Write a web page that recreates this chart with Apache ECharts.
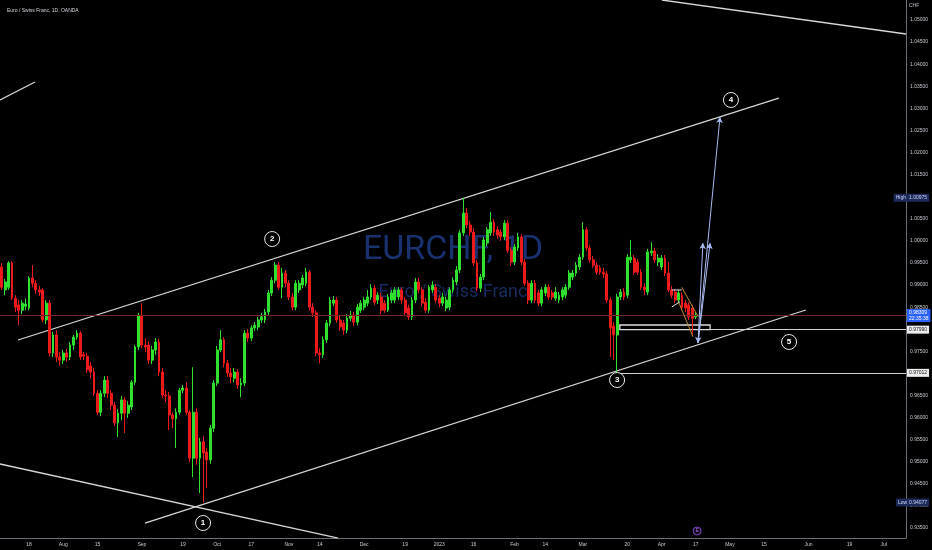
<!DOCTYPE html>
<html><head><meta charset="utf-8">
<script src="https://cdn.jsdelivr.net/npm/echarts@6/dist/echarts.min.js"></script>
<style>html,body{margin:0;padding:0;background:#000}#c{width:932px;height:550px}</style>
</head><body><div id="c"></div>
<script>
// ---- candle values (EUR/CHF daily, OANDA) ----
const opens = [
0.9941,0.9889,0.9895,0.9950,0.9870,0.9855,0.9843,0.9852,0.9848,0.9916,
0.9904,0.9889,0.9889,0.9821,0.9859,0.9746,0.9787,0.9737,0.9730,0.9746,
0.9737,0.9764,0.9782,0.9791,0.9742,0.9739,0.9717,0.9703,0.9655,0.9612,
0.9655,0.9685,0.9655,0.9628,0.9588,0.9610,0.9640,0.9610,0.9624,0.9680,
0.9760,0.9832,0.9764,0.9764,0.9730,0.9753,0.9771,0.9703,0.9651,0.9649,
0.9606,0.9597,0.9612,0.9662,0.9667,0.9612,0.9508,0.9612,0.9508,0.9545,
0.9522,0.9504,0.9576,0.9678,0.9753,0.9776,0.9723,0.9701,0.9689,0.9703,
0.9674,0.9678,0.9791,0.9780,0.9803,0.9805,0.9821,0.9821,0.9839,0.9882,
0.9911,0.9945,0.9895,0.9927,0.9904,0.9873,0.9850,0.9889,0.9900,0.9904,
0.9929,0.9850,0.9837,0.9746,0.9742,0.9776,0.9814,0.9859,0.9866,0.9821,
0.9814,0.9798,0.9825,0.9832,0.9816,0.9843,0.9850,0.9859,0.9873,0.9893,
0.9866,0.9873,0.9859,0.9843,0.9866,0.9866,0.9873,0.9889,0.9866,0.9848,
0.9828,0.9866,0.9907,0.9889,0.9861,0.9843,0.9889,0.9895,0.9870,0.9859,
0.9848,0.9850,0.9889,0.9907,0.9934,1.0018,1.0063,1.0036,1.0020,0.9950,
0.9893,0.9918,0.9995,1.0018,1.0042,1.0025,1.0020,1.0009,1.0040,0.9979,
0.9952,0.9984,1.0009,0.9952,0.9904,0.9866,0.9904,0.9882,0.9859,0.9882,
0.9895,0.9882,0.9870,0.9866,0.9873,0.9877,0.9895,0.9918,0.9927,0.9941,
0.9963,1.0025,0.9984,0.9957,0.9945,0.9939,0.9929,0.9925,0.9866,0.9807,
0.9787,0.9873,0.9884,0.9877,0.9957,0.9961,0.9952,0.9929,0.9895,0.9884,
0.9973,0.9977,0.9952,0.9941,0.9961,0.9927,0.9889,0.9884,0.9866,0.9877,
0.9859,0.9855,0.9848,0.9828];
const closes = [
0.9895,0.9907,0.9950,0.9870,0.9850,0.9843,0.9859,0.9857,0.9916,0.9904,
0.9889,0.9884,0.9821,0.9859,0.9746,0.9787,0.9737,0.9730,0.9746,0.9737,
0.9764,0.9782,0.9791,0.9737,0.9739,0.9708,0.9703,0.9655,0.9612,0.9655,
0.9685,0.9655,0.9628,0.9588,0.9610,0.9640,0.9610,0.9628,0.9680,0.9760,
0.9832,0.9764,0.9760,0.9730,0.9753,0.9771,0.9703,0.9651,0.9649,0.9606,
0.9597,0.9612,0.9662,0.9667,0.9612,0.9508,0.9612,0.9508,0.9545,0.9520,
0.9504,0.9576,0.9678,0.9753,0.9776,0.9723,0.9701,0.9692,0.9703,0.9674,
0.9678,0.9791,0.9780,0.9803,0.9809,0.9821,0.9828,0.9839,0.9882,0.9911,
0.9945,0.9895,0.9927,0.9904,0.9873,0.9850,0.9904,0.9904,0.9916,0.9929,
0.9850,0.9837,0.9746,0.9742,0.9776,0.9814,0.9866,0.9866,0.9821,0.9805,
0.9798,0.9825,0.9832,0.9816,0.9850,0.9859,0.9866,0.9873,0.9893,0.9861,
0.9877,0.9843,0.9843,0.9873,0.9882,0.9889,0.9889,0.9866,0.9837,0.9828,
0.9866,0.9907,0.9889,0.9859,0.9843,0.9895,0.9900,0.9866,0.9859,0.9873,
0.9866,0.9889,0.9911,0.9934,1.0018,1.0063,1.0036,1.0020,0.9950,0.9893,
0.9918,1.0002,1.0025,1.0042,1.0020,1.0013,1.0009,1.0040,0.9979,0.9952,
0.9986,1.0009,0.9952,0.9904,0.9866,0.9904,0.9866,0.9859,0.9889,0.9895,
0.9873,0.9873,0.9884,0.9877,0.9889,0.9895,0.9927,0.9927,0.9945,0.9963,
1.0025,0.9984,0.9957,0.9945,0.9929,0.9929,0.9925,0.9866,0.9803,0.9787,
0.9873,0.9884,0.9873,0.9963,0.9963,0.9929,0.9929,0.9895,0.9889,0.9975,
0.9977,0.9957,0.9961,0.9961,0.9927,0.9889,0.9877,0.9866,0.9882,0.9850,
0.9848,0.9828,0.9825,0.98309];
const lows = [
0.9889,0.9877,0.9889,0.9866,0.9839,0.9809,0.9834,0.9843,0.9843,0.9895,
0.9880,0.9875,0.9816,0.9812,0.9739,0.9737,0.9726,0.9717,0.9721,0.9726,
0.9730,0.9753,0.9776,0.9730,0.9730,0.9701,0.9689,0.9649,0.9606,0.9603,
0.9646,0.9644,0.9617,0.9581,0.9556,0.9594,0.9565,0.9599,0.9617,0.9674,
0.9753,0.9757,0.9748,0.9721,0.9721,0.9742,0.9694,0.9644,0.9635,0.9572,
0.9576,0.9531,0.9606,0.9655,0.9606,0.9499,0.9465,0.9493,0.9429,0.94077,
0.9440,0.9495,0.9567,0.9671,0.9748,0.9714,0.9692,0.9678,0.9680,0.9665,
0.9646,0.9671,0.9771,0.9773,0.9796,0.9798,0.9814,0.9814,0.9832,0.9875,
0.9904,0.9889,0.9870,0.9895,0.9866,0.9843,0.9843,0.9882,0.9893,0.9898,
0.9843,0.9828,0.9739,0.9723,0.9735,0.9769,0.9807,0.9852,0.9814,0.9796,
0.9787,0.9791,0.9818,0.9807,0.9809,0.9837,0.9843,0.9852,0.9866,0.9855,
0.9857,0.9834,0.9837,0.9839,0.9859,0.9859,0.9866,0.9857,0.9830,0.9821,
0.9821,0.9859,0.9882,0.9852,0.9837,0.9837,0.9882,0.9859,0.9850,0.9852,
0.9841,0.9843,0.9882,0.9900,0.9927,1.0011,1.0029,1.0011,0.9943,0.9886,
0.9884,0.9911,0.9988,1.0011,1.0011,1.0004,1.0000,1.0002,0.9973,0.9943,
0.9945,0.9977,0.9945,0.9898,0.9857,0.9859,0.9859,0.9852,0.9852,0.9875,
0.9866,0.9866,0.9864,0.9859,0.9866,0.9870,0.9889,0.9911,0.9920,0.9934,
0.9957,0.9977,0.9950,0.9939,0.9923,0.9923,0.9916,0.9859,0.9737,0.9730,
0.97012,0.9866,0.9866,0.9870,0.9950,0.9923,0.9923,0.9889,0.9877,0.9877,
0.9966,0.9950,0.9943,0.9934,0.9920,0.9884,0.9870,0.9859,0.9859,0.9843,
0.9839,0.9821,0.9787,0.9823];
const highs = [
0.9950,0.9914,0.9954,0.9954,0.9877,0.9866,0.9866,0.9870,0.9920,0.9945,
0.9911,0.9898,0.9893,0.9866,0.9866,0.9794,0.9798,0.9748,0.9753,0.9755,
0.9771,0.9787,0.9798,0.9796,0.9748,0.9746,0.9726,0.9712,0.9662,0.9662,
0.9694,0.9694,0.9662,0.9635,0.9619,0.9649,0.9646,0.9637,0.9685,0.9764,
0.9837,0.9859,0.9780,0.9773,0.9762,0.9780,0.9778,0.9712,0.9662,0.9658,
0.9612,0.9621,0.9667,0.9674,0.9680,0.9617,0.9714,0.9621,0.9554,0.9558,
0.9531,0.9583,0.9685,0.9762,0.9798,0.9782,0.9730,0.9712,0.9712,0.9710,
0.9689,0.9798,0.9800,0.9809,0.9816,0.9828,0.9837,0.9846,0.9889,0.9918,
0.9952,0.9952,0.9939,0.9934,0.9911,0.9882,0.9911,0.9911,0.9923,0.9939,
0.9934,0.9859,0.9843,0.9757,0.9784,0.9821,0.9873,0.9875,0.9873,0.9830,
0.9821,0.9834,0.9841,0.9839,0.9857,0.9866,0.9873,0.9889,0.9902,0.9900,
0.9884,0.9882,0.9866,0.9880,0.9889,0.9895,0.9895,0.9895,0.9873,0.9855,
0.9873,0.9916,0.9916,0.9895,0.9870,0.9900,0.9909,0.9902,0.9877,0.9882,
0.9873,0.9895,0.9918,0.9943,1.0025,1.00975,1.0074,1.0045,1.0029,0.9957,
0.9925,1.0009,1.0031,1.0065,1.0049,1.0033,1.0026,1.0047,1.0047,0.9986,
0.9993,1.0018,1.0015,0.9959,0.9911,0.9911,0.9911,0.9889,0.9895,0.9902,
0.9902,0.9889,0.9895,0.9884,0.9895,0.9902,0.9934,0.9934,0.9952,0.9970,
1.0042,1.0031,0.9991,0.9966,0.9952,0.9945,0.9939,0.9932,0.9873,0.9816,
0.9880,0.9891,0.9893,0.9970,1.0002,0.9968,0.9959,0.9936,0.9904,0.9982,
0.9997,0.9984,0.9970,0.9968,0.9968,0.9952,0.9898,0.9891,0.9889,0.9884,
0.9866,0.9861,0.9855,0.9839];

// ---- axis ticks ----
const priceTicks = [0.935,0.940,0.945,0.950,0.955,0.960,0.965,0.970,0.975,0.980,0.985,0.990,
  0.995,1.000,1.005,1.010,1.015,1.020,1.025,1.030,1.035,1.040,1.045,1.050];
const xTickDates = ['2022-07-18','2022-08-01','2022-08-15','2022-09-01','2022-09-19','2022-10-03',
  '2022-10-17','2022-11-01','2022-11-14','2022-12-01','2022-12-19','2023-01-02','2023-01-16',
  '2023-02-01','2023-02-14','2023-03-01','2023-03-20','2023-04-03','2023-04-17','2023-05-01',
  '2023-05-15','2023-06-01','2023-06-19','2023-07-03'];
const xTickLabels = ['18','Aug','15','Sep','19','Oct','17','Nov','14','Dec','19','2023','16',
  'Feb','14','Mar','20','Apr','17','May','15','Jun','19','Jul'];

// ---- levels and drawings (bar index, price) ----
const lastClock = '22:35:38';
const highValue = 1.00975, lowValue = 0.94077;
const levelA = 0.97990, levelB = 0.97012;
const trendLines = [
  [[4.77, 0.97756], [227.3, 1.03234]],
  [[41.9, 0.93613], [235.2, 0.98435]],
  [[-0.5, 1.03189], [9.74, 1.03597]],
  [[-0.5, 0.94949], [98.4, 0.93273]],
  [[193.1, 1.05453], [264.5, 1.04683]]
];
const flagLines = [
  [[198.9, 0.98949], [203.7, 0.98284]],
  [[198.1, 0.98594], [202.2, 0.97830]]
];
const whiteShort = [
  [[196.0, 0.98888], [198.9, 0.98888]],
  [[196.0, 0.98503], [198.4, 0.98623]]
];
const arrowBase = [203.66, 0.97688];
const arrowTips = [[205.1, 0.99952], [207.2, 0.99952], [210.1, 1.02804]];
const zoneBox = [[180.8, 0.98095], [207.2, 0.97990]];
const waveLabels = [
  ['1', 58.9, 0.93613], ['2', 79.1, 1.00042], ['3', 180.0, 0.96850],
  ['4', 213.3, 1.03189], ['5', 230.3, 0.97711]
];

// weekday categories
const NCAT = 265;
const dates = [];
(function () {
  const d = new Date(Date.UTC(2022, 6, 6));
  while (dates.length < NCAT) {
    const w = d.getUTCDay();
    if (w !== 0 && w !== 6) dates.push(d.toISOString().slice(0, 10));
    d.setUTCDate(d.getUTCDate() + 1);
  }
})();
const tickMap = new Map(xTickDates.map((d, i) => [d, xTickLabels[i]]));
const candles = opens.map((o, i) => [o, closes[i], lows[i], highs[i]]);
const lastClose = closes[closes.length - 1];
const firstIdx = -0.5, lastIdx = NCAT - 0.5;

const GREEN = '#2fe02f', RED = '#ec1b1b';
const FONT = 'Liberation Sans, Arial, sans-serif';
const chart = echarts.init(document.getElementById('c'), null, { renderer: 'canvas' });

const series = [{
  type: 'candlestick',
  xAxisIndex: 0, yAxisIndex: 0,
  data: candles,
  barWidth: '68%',
  itemStyle: { color: GREEN, color0: RED, borderColor: GREEN, borderColor0: RED, borderWidth: 1 },
  silent: true,
  z: 4
}];

trendLines.forEach(l => series.push({
  type: 'line', xAxisIndex: 1, yAxisIndex: 0, data: l, symbol: 'none', silent: true,
  clip: true, lineStyle: { color: '#d6d6d6', width: 1.3 }, z: 3
}));
flagLines.forEach(l => series.push({
  type: 'line', xAxisIndex: 1, yAxisIndex: 0, data: l, symbol: 'none', silent: true,
  lineStyle: { color: '#b98a2e', width: 1 }, z: 5
}));
whiteShort.forEach(l => series.push({
  type: 'line', xAxisIndex: 1, yAxisIndex: 0, data: l, symbol: 'none', silent: true,
  lineStyle: { color: '#e6e6e6', width: 1 }, z: 5
}));

const badge = (txt, bg, fg) => ({ show: true, position: 'end', distance: 1, formatter: txt,
  backgroundColor: bg, color: fg, fontSize: 5, padding: [2, 2, 1, 2], fontFamily: FONT });
const hidden = { color: 'rgba(0,0,0,0)', width: 0 };

// price line (behind candles)
series.push({
  type: 'line', xAxisIndex: 1, yAxisIndex: 0, data: [], silent: true, z: 2,
  markLine: {
    silent: true, animation: false, symbol: ['none', 'none'],
    data: [[
      { coord: [firstIdx, lastClose], lineStyle: { color: '#74272a', width: 1, type: 'solid' },
        label: { show: true, position: 'end', distance: 1,
          formatter: lastClose.toFixed(5) + '\n' + lastClock,
          backgroundColor: '#2962ff', color: '#ffffff', fontSize: 5, lineHeight: 6,
          padding: [1, 2, 0, 2], fontFamily: FONT } },
      { coord: [lastIdx, lastClose] }
    ]]
  }
});

series.push({
  type: 'line', xAxisIndex: 1, yAxisIndex: 0, data: [], silent: true, z: 6,
  markLine: {
    silent: true, animation: false, symbol: ['none', 'none'],
    data: [
      [{ coord: [zoneBox[1][0], levelA], lineStyle: { color: '#d0d0d0', width: 1, type: 'solid' },
         label: badge(levelA.toFixed(5), '#ececec', '#111') }, { coord: [lastIdx, levelA] }],
      [{ coord: [179.1, levelB], lineStyle: { color: '#d0d0d0', width: 1, type: 'solid' },
         label: badge(levelB.toFixed(5), '#ececec', '#111') }, { coord: [lastIdx, levelB] }],
      [{ coord: [250, highValue], lineStyle: hidden, label: badge('High', '#1d2a5a', '#c9d3f5') },
       { coord: [260.6, highValue] }],
      [{ coord: [250, highValue], lineStyle: hidden, label: badge(highValue.toFixed(5), '#1d2a5a', '#c9d3f5') },
       { coord: [lastIdx, highValue] }],
      [{ coord: [250, lowValue], lineStyle: hidden, label: badge('Low', '#1d2a5a', '#c9d3f5') },
       { coord: [261.3, lowValue] }],
      [{ coord: [250, lowValue], lineStyle: hidden, label: badge(lowValue.toFixed(5), '#1d2a5a', '#c9d3f5') },
       { coord: [lastIdx, lowValue] }]
    ]
  },
  markArea: {
    silent: true,
    itemStyle: { color: 'rgba(0,0,0,0)', borderColor: '#dcdcdc', borderWidth: 1.3 },
    data: [[{ coord: zoneBox[0] }, { coord: zoneBox[1] }]]
  }
});

series.push({
  type: 'line', xAxisIndex: 1, yAxisIndex: 0, data: [], silent: true, z: 7,
  markLine: {
    silent: true, animation: false, symbol: ['none', 'arrow'], symbolSize: [5, 6],
    lineStyle: { color: '#a9bbf2', width: 1, type: 'solid' }, label: { show: false },
    data: arrowTips.map((t, i) => [
      { coord: arrowBase, symbol: i === 0 ? 'arrow' : 'none' },
      { coord: t }
    ])
  },
  markPoint: {
    silent: true, animation: false,
    data: waveLabels.map(w => ({
      name: w[0], coord: [w[1], w[2]], symbol: 'circle', symbolSize: 15,
      itemStyle: { color: '#000', borderColor: '#e8e8e8', borderWidth: 1 },
      label: { show: true, formatter: w[0], color: '#ffffff', fontSize: 8, fontWeight: 'bold', fontFamily: FONT }
    })).concat([{
      name: 'E', coord: [203.4, 0.93432], symbol: 'circle', symbolSize: 8,
      itemStyle: { color: '#14081f', borderColor: '#7b47c4', borderWidth: 1 },
      label: { show: true, formatter: 'E', color: '#9a6ee0', fontSize: 5, fontFamily: FONT }
    }])
  }
});

chart.setOption({
  backgroundColor: '#000000',
  animation: false,
  textStyle: { fontFamily: FONT },
  title: { text: 'Euro / Swiss Franc, 1D, OANDA', left: 2, top: 3,
    textStyle: { fontSize: 5, color: '#d1d4dc', fontWeight: 'normal', fontFamily: FONT } },
  graphic: [
    { type: 'text', x: 453, y: 250, z: -10, silent: true,
      style: { text: 'EURCHF, 1D', fill: '#1a3170', font: '34px Roboto, sans-serif', align: 'center', verticalAlign: 'middle' } },
    { type: 'text', x: 453, y: 292, z: -10, silent: true,
      style: { text: 'Euro / Swiss Franc', fill: '#192c62', font: '18px Roboto, sans-serif', align: 'center', verticalAlign: 'middle' } },
    { type: 'text', x: 909, y: 3, silent: true,
      style: { text: 'CHF', fill: '#c0c3cc', font: '5px Liberation Sans, sans-serif' } }
  ],
  grid: { left: 0, right: 26, top: 0, bottom: 12, containLabel: false },
  xAxis: [{
    type: 'category', data: dates, boundaryGap: true,
    axisLine: { show: true, onZero: false, lineStyle: { color: '#6b6e78', width: 1 } },
    axisTick: { show: false },
    splitLine: { show: false },
    axisLabel: { interval: (i, v) => tickMap.has(v), formatter: v => tickMap.get(v) || '',
      color: '#c8cad2', fontSize: 5, margin: 4, fontFamily: FONT }
  }, {
    type: 'value', min: firstIdx, max: lastIdx, show: false
  }],
  yAxis: [{
    type: 'value', position: 'right', min: 0.932736, max: 1.054528, scale: true,
    axisLine: { show: true, onZero: false, lineStyle: { color: '#6b6e78', width: 1 } },
    axisTick: { show: false },
    splitLine: { show: false },
    axisLabel: { customValues: priceTicks, formatter: v => v.toFixed(5),
      color: '#c8cad2', fontSize: 5, margin: 4, fontFamily: FONT }
  }],
  series: series
});
</script>
</body></html>
